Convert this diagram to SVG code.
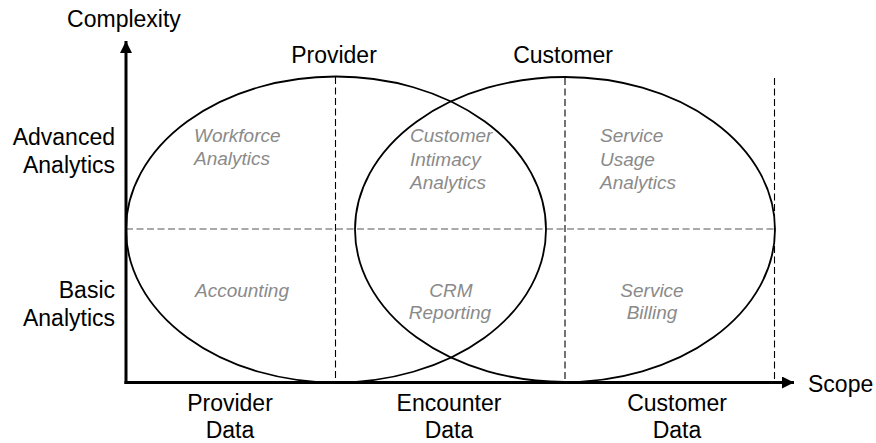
<svg xmlns="http://www.w3.org/2000/svg" width="876" height="443" viewBox="0 0 876 443">
  <defs>
    <style>
      .lbl { font-family: "Liberation Sans", Arial, sans-serif; font-size: 23px; fill: #000; }
      .area { font-family: "Liberation Sans", Arial, sans-serif; font-size: 19px; font-style: italic; fill: #8a8a8a; }
      .set { fill: none; stroke: #000; stroke-width: 1.8; }
      .grid { fill: none; stroke: #000; stroke-width: 1.1; stroke-dasharray: 7 3.5; }
      .grid-h { stroke: #555; }
      .axis { fill: none; stroke: #000; stroke-width: 3; }
    </style>
    <marker id="arrow" viewBox="0 0 10 10" refX="10" refY="5" markerWidth="4" markerHeight="4" markerUnits="strokeWidth" orient="auto">
      <path d="M0,0 L10,5 L0,10 Z" fill="#000"/>
    </marker>
  </defs>
  <rect width="876" height="443" fill="#fff"/>

  <!-- quadrant grid -->
  <g id="grid">
    <line class="grid grid-h" x1="126" y1="229" x2="775" y2="229"/>
    <line class="grid" x1="335.5" y1="77" x2="335.5" y2="382"/>
    <line class="grid" x1="565" y1="78" x2="565" y2="382"/>
    <line class="grid" x1="774.5" y1="78" x2="774.5" y2="382"/>
  </g>

  <!-- provider and customer sets -->
  <g id="provider">
    <ellipse class="set" cx="336" cy="229.5" rx="210" ry="153"/>
    <text class="lbl" x="334" y="63" text-anchor="middle">Provider</text>
  </g>
  <g id="customer">
    <ellipse class="set" cx="565" cy="229.5" rx="210" ry="152.5"/>
    <text class="lbl" x="563" y="63" text-anchor="middle">Customer</text>
  </g>

  <!-- axes -->
  <g id="connectors">
    <line class="axis" x1="126" y1="384" x2="126" y2="41" marker-end="url(#arrow)"/>
    <line class="axis" x1="124.5" y1="382.5" x2="794" y2="382.5" marker-end="url(#arrow)"/>
  </g>

  <g id="axis-labels">
    <text class="lbl" x="124" y="27" text-anchor="middle">Complexity</text>
    <text class="lbl" x="808" y="392">Scope</text>
    <text class="lbl" x="115" y="145" text-anchor="end">Advanced</text>
    <text class="lbl" x="115" y="173" text-anchor="end">Analytics</text>
    <text class="lbl" x="115" y="298" text-anchor="end">Basic</text>
    <text class="lbl" x="115" y="326" text-anchor="end">Analytics</text>
    <text class="lbl" x="230" y="411" text-anchor="middle">Provider</text>
    <text class="lbl" x="230" y="438" text-anchor="middle">Data</text>
    <text class="lbl" x="449" y="411" text-anchor="middle">Encounter</text>
    <text class="lbl" x="449" y="438" text-anchor="middle">Data</text>
    <text class="lbl" x="677" y="411" text-anchor="middle">Customer</text>
    <text class="lbl" x="677" y="438" text-anchor="middle">Data</text>
  </g>

  <!-- quadrant areas -->
  <g id="workforce-analytics">
    <text class="area" x="194" y="142">Workforce</text>
    <text class="area" x="194" y="165">Analytics</text>
  </g>
  <g id="customer-intimacy-analytics">
    <text class="area" x="410" y="142">Customer</text>
    <text class="area" x="410" y="165.5">Intimacy</text>
    <text class="area" x="410" y="189">Analytics</text>
  </g>
  <g id="service-usage-analytics">
    <text class="area" x="600" y="142">Service</text>
    <text class="area" x="600" y="165.5">Usage</text>
    <text class="area" x="600" y="189">Analytics</text>
  </g>
  <g id="accounting">
    <text class="area" x="242" y="297" text-anchor="middle">Accounting</text>
  </g>
  <g id="crm-reporting">
    <text class="area" x="451" y="297" text-anchor="middle">CRM</text>
    <text class="area" x="450" y="319" text-anchor="middle">Reporting</text>
  </g>
  <g id="service-billing">
    <text class="area" x="652" y="297" text-anchor="middle">Service</text>
    <text class="area" x="652" y="319" text-anchor="middle">Billing</text>
  </g>
</svg>
